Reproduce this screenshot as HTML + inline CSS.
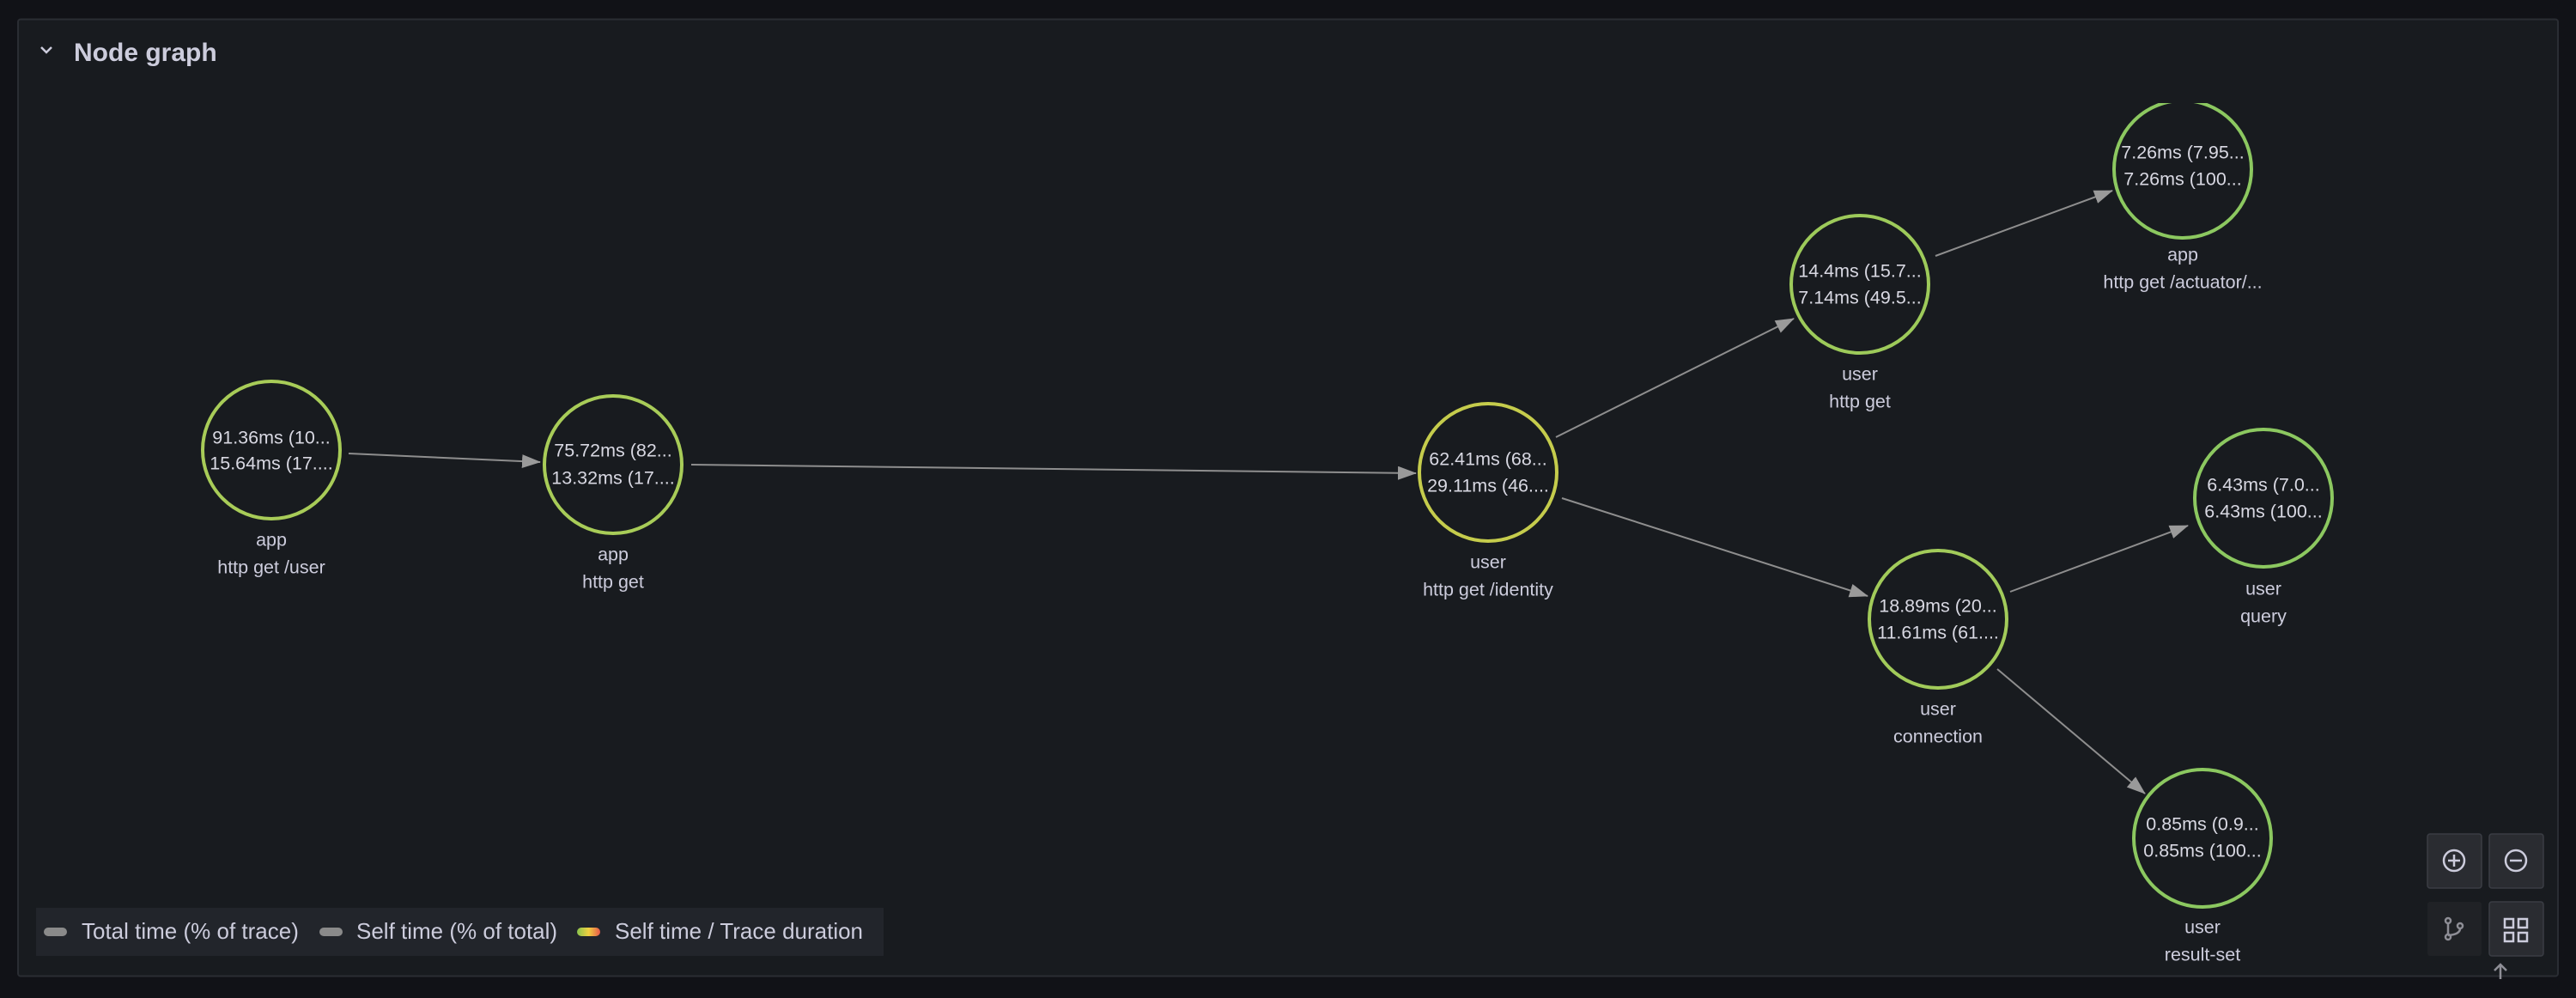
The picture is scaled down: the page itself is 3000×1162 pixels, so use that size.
<!DOCTYPE html>
<html><head><meta charset="utf-8"><style>
html,body{margin:0;padding:0;width:3000px;height:1162px;background:#111217;overflow:hidden;font-family:"Liberation Sans",sans-serif;}
</style></head><body>
<svg width="3000" height="1162" viewBox="0 0 3000 1162" xmlns="http://www.w3.org/2000/svg" style="position:absolute;left:0;top:0">
<defs>
<clipPath id="c"><rect x="22" y="120" width="2955" height="1015"/></clipPath>
<marker id="a" markerWidth="22" markerHeight="16" refX="21" refY="8" orient="auto" markerUnits="userSpaceOnUse" viewBox="0 0 22 16"><path d="M0,0 L22,8 L0,16 z" fill="#9a9a9a"/></marker>
<linearGradient id="g" x1="0" x2="1"><stop offset="0" stop-color="#8ac44d"/><stop offset="0.5" stop-color="#f0d040"/><stop offset="1" stop-color="#e8584a"/></linearGradient>
</defs>
<rect x="21" y="22.5" width="2958" height="1114" rx="3" fill="#181b1f" stroke="#2a2d33" stroke-width="2"/>
<path d="M48,55 l6,6 l6,-6" fill="none" stroke="#ccccdc" stroke-width="2.5"/>
<text x="86" y="71" font-size="30" fill="#ccccdc" font-weight="bold">Node graph</text>
<g clip-path="url(#c)">
<g stroke="#8e8e8e" stroke-width="2" fill="none">
<line x1="406" y1="528" x2="629" y2="538" marker-end="url(#a)"/>
<line x1="805" y1="541" x2="1649" y2="551" marker-end="url(#a)"/>
<line x1="1812" y1="509" x2="2089" y2="371" marker-end="url(#a)"/>
<line x1="2254" y1="298" x2="2460" y2="222" marker-end="url(#a)"/>
<line x1="1819" y1="580" x2="2175" y2="694" marker-end="url(#a)"/>
<line x1="2341" y1="689" x2="2548" y2="612" marker-end="url(#a)"/>
<line x1="2326" y1="779" x2="2498" y2="924" marker-end="url(#a)"/>
</g>
<g fill="#181b1f" stroke-width="4">
<circle cx="316" cy="524" r="80" stroke="#a8cc58"/>
<circle cx="714" cy="541" r="80" stroke="#a8cc58"/>
<circle cx="1733" cy="550" r="80" stroke="#c5cc4c"/>
<circle cx="2166" cy="331" r="80" stroke="#9dca5a"/>
<circle cx="2542" cy="197" r="80" stroke="#8cc860"/>
<circle cx="2636" cy="580" r="80" stroke="#8cc860"/>
<circle cx="2257" cy="721" r="80" stroke="#a2cb5a"/>
<circle cx="2565" cy="976" r="80" stroke="#8cc860"/>
</g>
<g font-size="21.5" fill="#d8d8e2" text-anchor="middle" dominant-baseline="middle">
<text x="316" y="511">91.36ms (10...</text><text x="316" y="541">15.64ms (17....</text>
<text x="714" y="526">75.72ms (82...</text><text x="714" y="558">13.32ms (17....</text>
<text x="1733" y="536">62.41ms (68...</text><text x="1733" y="567">29.11ms (46....</text>
<text x="2166" y="317">14.4ms (15.7...</text><text x="2166" y="348">7.14ms (49.5...</text>
<text x="2542" y="179">7.26ms (7.95...</text><text x="2542" y="210">7.26ms (100...</text>
<text x="2636" y="566">6.43ms (7.0...</text><text x="2636" y="597">6.43ms (100...</text>
<text x="2257" y="707">18.89ms (20...</text><text x="2257" y="738">11.61ms (61....</text>
<text x="2565" y="961">0.85ms (0.9...</text><text x="2565" y="992">0.85ms (100...</text>
</g>
<g font-size="21.5" fill="#ccccdc" text-anchor="middle" dominant-baseline="middle">
<text x="316" y="630">app</text><text x="316" y="662">http get /user</text>
<text x="714" y="647">app</text><text x="714" y="679">http get</text>
<text x="1733" y="656">user</text><text x="1733" y="688">http get /identity</text>
<text x="2166" y="437">user</text><text x="2166" y="469">http get</text>
<text x="2542" y="298">app</text><text x="2542" y="330">http get /actuator/...</text>
<text x="2636" y="687">user</text><text x="2636" y="719">query</text>
<text x="2257" y="827">user</text><text x="2257" y="859">connection</text>
<text x="2565" y="1081">user</text><text x="2565" y="1113">result-set</text>
</g>
</g>
<rect x="42" y="1057" width="987" height="56" fill="#22252b"/>
<rect x="51" y="1080" width="27" height="10" rx="5" fill="#8a8a8a"/>
<rect x="372" y="1080" width="27" height="10" rx="5" fill="#8a8a8a"/>
<rect x="672" y="1080" width="27" height="10" rx="5" fill="url(#g)"/>
<g font-size="26" fill="#ccccdc" dominant-baseline="middle">
<text x="95" y="1086">Total time (% of trace)</text>
<text x="415" y="1086">Self time (% of total)</text>
<text x="716" y="1086">Self time / Trace duration</text>
</g>
<g stroke="#3a3d44" stroke-width="1.5">
<rect x="2827" y="971" width="63" height="63" rx="3" fill="#2a2c31"/>
<rect x="2899" y="971" width="63" height="63" rx="3" fill="#2a2c31"/>
<rect x="2827" y="1050" width="63" height="63" rx="3" fill="#202226" stroke="none"/>
<rect x="2899" y="1050" width="63" height="63" rx="3" fill="#2a2c31"/>
</g>
<g fill="none" stroke="#ccccdc" stroke-width="2.5">
<circle cx="2858" cy="1002" r="12"/><path d="M2851,1002h14M2858,995v14"/>
<circle cx="2930" cy="1002" r="12"/><path d="M2923,1002h14"/>
<rect x="2917" y="1070" width="10" height="10"/><rect x="2933" y="1070" width="10" height="10"/>
<rect x="2917" y="1086" width="10" height="10"/><rect x="2933" y="1086" width="10" height="10"/>
</g>
<g fill="none" stroke="#8e8e96" stroke-width="2.5">
<circle cx="2851" cy="1072" r="3"/><circle cx="2851" cy="1091" r="3"/><circle cx="2865" cy="1078" r="3"/>
<path d="M2851,1075v13M2865,1081q0,7 -14,8"/>
<path d="M2912,1140v-16M2905,1130l7,-7l7,7"/>
</g>
</svg>
</body></html>
